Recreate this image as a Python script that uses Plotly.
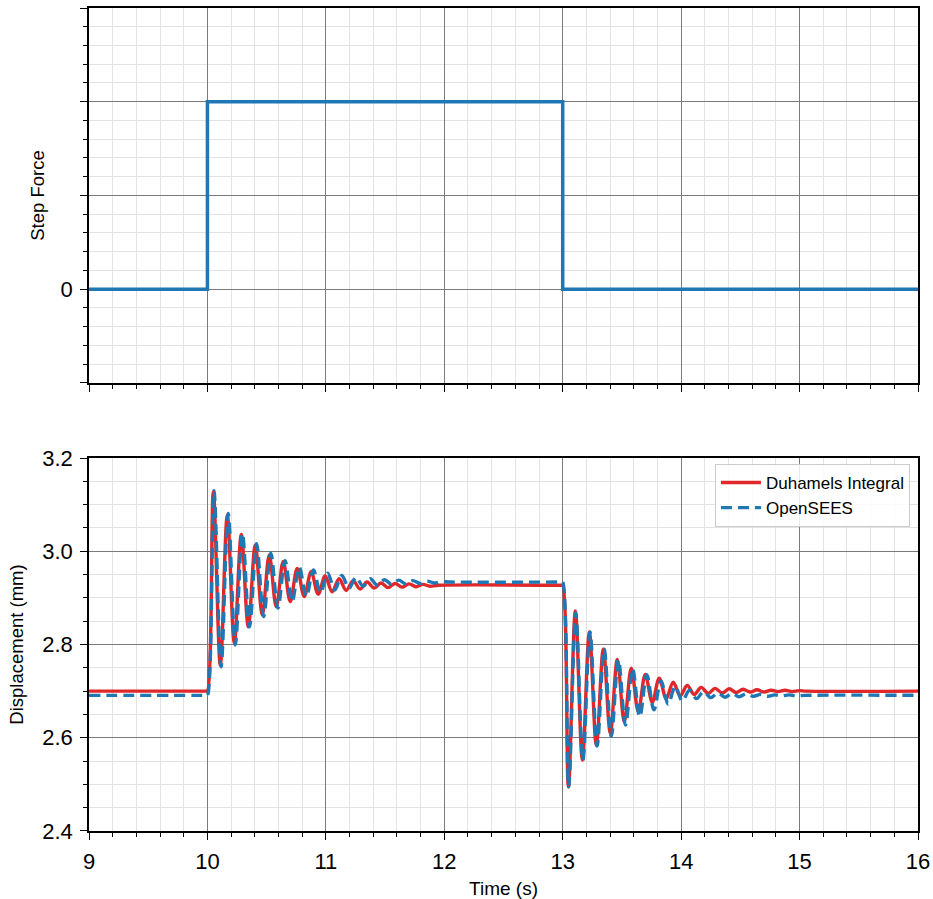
import plotly.graph_objects as go

# ---------------- data ----------------
# Top panel: step force
t_force = [9.0, 10.0, 10.0, 13.0, 13.0, 16.0]
force = [0, 0, 1, 1, 0, 0]

# Duhamel's integral response (flat parts + read extrema)
t_duhamel = [9.0, 9.99, 10.0,
             10.050, 10.109, 10.168, 10.227, 10.286, 10.345, 10.404, 10.463,
             10.522, 10.581, 10.640, 10.699, 10.758, 10.817, 10.876, 10.935,
             10.994, 11.053, 11.112, 11.171, 11.230, 11.289, 11.348, 11.407,
             11.466, 11.525, 11.584, 11.643, 11.702, 11.761, 11.820, 11.879,
             11.95, 12.99, 13.0,
             13.048, 13.107, 13.166, 13.225, 13.284, 13.343, 13.402, 13.461,
             13.520, 13.579, 13.638, 13.697, 13.756, 13.815, 13.874, 13.933,
             13.992, 14.051, 14.110, 14.169, 14.228, 14.287, 14.346, 14.405,
             14.464, 14.523, 14.582, 14.641, 14.700, 14.759, 14.818, 14.877,
             14.936, 14.995, 15.06, 16.0]
d_duhamel = [2.700, 2.700, 2.700,
             3.128, 2.756, 3.078, 2.803, 3.036, 2.838, 3.013, 2.863,
             2.992, 2.881, 2.978, 2.892, 2.963, 2.903, 2.956, 2.908,
             2.947, 2.913, 2.941, 2.916, 2.937, 2.919, 2.934, 2.921,
             2.932, 2.922, 2.931, 2.923, 2.930, 2.924, 2.929, 2.925,
             2.927, 2.927, 2.927,
             2.495, 2.872, 2.552, 2.827, 2.584, 2.790, 2.610, 2.768,
             2.634, 2.749, 2.656, 2.736, 2.676, 2.728, 2.684, 2.719,
             2.690, 2.712, 2.693, 2.708, 2.695, 2.706, 2.696, 2.705,
             2.697, 2.704, 2.698, 2.703, 2.698, 2.702, 2.699, 2.702,
             2.699, 2.701, 2.700, 2.700]

# OpenSEES response (flat parts + read extrema)
t_opensees = [9.0, 9.99, 10.0,
              10.055, 10.115, 10.175, 10.235, 10.295, 10.355, 10.415, 10.475,
              10.535, 10.595, 10.655, 10.715, 10.775, 10.835, 10.895, 10.955,
              11.015, 11.075, 11.135, 11.195, 11.255, 11.315, 11.375, 11.435,
              11.495, 11.555, 11.615, 11.675, 11.735, 11.795, 11.855, 11.915,
              11.975, 12.05, 12.99, 13.0,
              13.050, 13.110, 13.170, 13.230, 13.290, 13.350, 13.410, 13.470,
              13.530, 13.590, 13.650, 13.710, 13.770, 13.830, 13.890, 13.950,
              14.010, 14.070, 14.130, 14.190, 14.250, 14.310, 14.370, 14.430,
              14.490, 14.550, 14.610, 14.670, 14.730, 14.790, 14.850, 14.910,
              14.970, 15.05, 16.0]
d_opensees = [2.691, 2.691, 2.691,
              3.130, 2.752, 3.081, 2.799, 3.038, 2.838, 3.016, 2.860,
              2.996, 2.878, 2.980, 2.892, 2.966, 2.903, 2.960, 2.911,
              2.953, 2.917, 2.948, 2.921, 2.944, 2.925, 2.941, 2.927,
              2.939, 2.929, 2.938, 2.930, 2.937, 2.931, 2.936, 2.932,
              2.935, 2.934, 2.934, 2.934,
              2.495, 2.868, 2.552, 2.827, 2.582, 2.790, 2.603, 2.767,
              2.627, 2.748, 2.645, 2.735, 2.660, 2.722, 2.672, 2.710,
              2.679, 2.702, 2.684, 2.699, 2.686, 2.696, 2.687, 2.695,
              2.688, 2.694, 2.689, 2.693, 2.689, 2.692, 2.690, 2.692,
              2.690, 2.691, 2.691]

force_tickvals = [-0.5, 0, 0.5, 1.0, 1.5]
force_ticktext = ["", "0", "", "", ""]

# ---------------- figure ----------------
FONT = "Arial, 'Liberation Sans', Helvetica, sans-serif"
BLUE = "#1f77b4"
RED = "#e0282a"

fig = go.Figure()
fig.add_trace(go.Scatter(x=t_force, y=force, mode="lines",
                         line=dict(color=BLUE, width=3.5),
                         xaxis="x2", yaxis="y2", showlegend=False))
fig.add_trace(go.Scatter(x=t_duhamel, y=d_duhamel, mode="lines",
                         name="Duhamels Integral",
                         line=dict(color=RED, width=3.4, shape="spline", smoothing=1)))
fig.add_trace(go.Scatter(x=t_opensees, y=d_opensees, mode="lines",
                         name="OpenSEES",
                         line=dict(color=BLUE, width=3.4, shape="spline", smoothing=1,
                                   dash="11px,6px")))

def ax(**kw):
    base = dict(showline=True, linecolor="black", linewidth=1.5, mirror=True,
                ticks="outside", ticklen=7, tickwidth=1.3, tickcolor="black",
                showgrid=True, gridcolor="#7a7a7a", gridwidth=1.4, zeroline=False,
                automargin=False, ticklabelstandoff=3,
                tickfont=dict(size=22, color="black", family=FONT),
                minor=dict(ticks="outside", ticklen=4, tickwidth=1, tickcolor="black",
                           showgrid=True, gridcolor="#e3e3e3", gridwidth=1))
    for k, v in kw.items():
        if k == "minor":
            base["minor"].update(v)
        else:
            base[k] = v
    return base

fig.update_layout(
    width=933, height=899,
    margin=dict(l=89, r=15, t=8, b=68, autoexpand=False),
    paper_bgcolor="white", plot_bgcolor="white",
    font=dict(family=FONT, color="black"),
    xaxis=ax(domain=[0, 1], range=[9, 16], tickmode="linear", tick0=9, dtick=1,
             anchor="y", minor=dict(tick0=9, dtick=0.2),
             title=dict(text="Time (s)", font=dict(size=19), standoff=10)),
    yaxis=ax(domain=[0, 0.4532], range=[2.4, 3.2], tickmode="linear", tick0=2.4,
             dtick=0.2, tickformat=".1f", anchor="x",
             minor=dict(tick0=2.4, dtick=0.05),
             title=dict(text="Displacement (mm)", font=dict(size=18.5), standoff=14)),
    xaxis2=ax(domain=[0, 1], range=[9, 16], tickmode="linear", tick0=9, dtick=1,
              anchor="y2", matches="x", showticklabels=False,
              minor=dict(tick0=9, dtick=0.2)),
    yaxis2=ax(domain=[0.5444, 1], range=[-0.5, 1.5], tickmode="array",
              tickvals=force_tickvals, ticktext=force_ticktext, anchor="x2",
              minor=dict(tickmode="linear", tick0=0, dtick=0.1),
              title=dict(text="Step Force", font=dict(size=18.5), standoff=11)),
    legend=dict(x=0.9903, y=0.4459, xanchor="right", yanchor="top",
                bordercolor="#cccccc", borderwidth=1,
                bgcolor="rgba(255,255,255,0.85)",
                font=dict(size=17, family=FONT, color="black"),
                itemwidth=40, tracegroupgap=2),
)

fig.write_html("out.html")
